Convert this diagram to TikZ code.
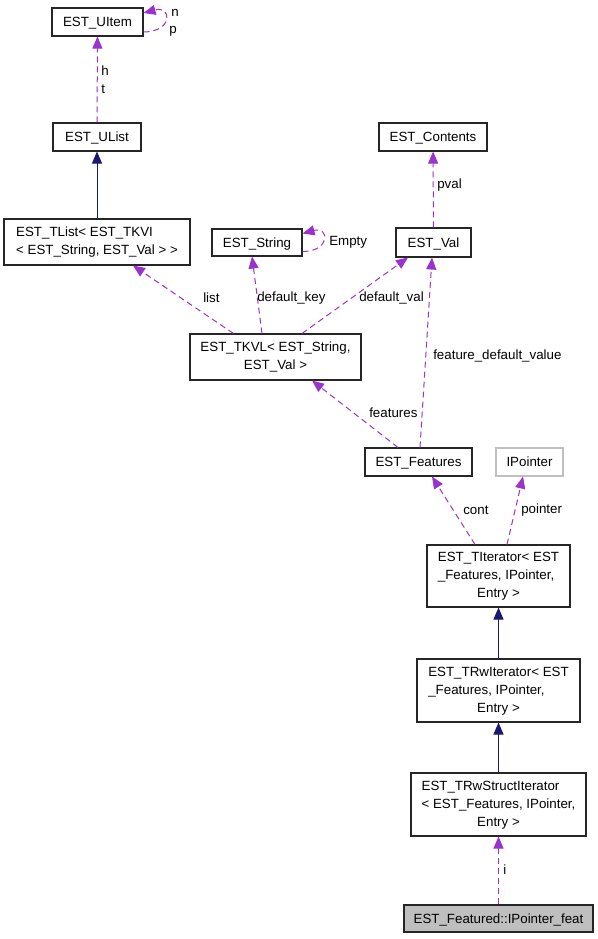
\documentclass[tikz,border=0pt]{standalone}
\usepackage{fontspec}
\setmainfont{Liberation Sans}
\usetikzlibrary{arrows.meta}
\newlength{\px}
\setlength{\px}{0.75pt}
\definecolor{edgepurple}{HTML}{9A32CD}
\definecolor{edgenavy}{HTML}{191970}
\definecolor{boxgray}{HTML}{BFBFBF}
\newcommand{\tlisttext}{\begin{tabular}{@{}l@{}}EST\_TList< EST\_TKVI\\< EST\_String, EST\_Val > >\end{tabular}}
\newcommand{\tkvltext}{\begin{tabular}{@{}c@{}}EST\_TKVL< EST\_String,\\EST\_Val >\end{tabular}}
\newcommand{\titeratortext}{\begin{tabular}{@{}l@{}}EST\_TIterator< EST\\\_Features, IPointer,\\\multicolumn{1}{@{}c@{}}{Entry >}\end{tabular}}
\newcommand{\trwiteratortext}{\begin{tabular}{@{}l@{}}EST\_TRwIterator< EST\\\_Features, IPointer,\\\multicolumn{1}{@{}c@{}}{Entry >}\end{tabular}}
\newcommand{\trwstructtext}{\begin{tabular}{@{}l@{}}EST\_TRwStructIterator\\< EST\_Features, IPointer,\\\multicolumn{1}{@{}c@{}}{Entry >}\end{tabular}}

\begin{document}
\begin{tikzpicture}[x=\px, y=-\px,
  font=\fontsize{10}{13.5}\selectfont,
  >={Triangle[length=9pt,width=7.5pt]},
  cls/.style={rectangle, draw=black!85, line width=0.8pt, inner sep=0pt},
  oneline/.style={cls, text height=7.2pt, text depth=0pt},
  assoc/.style={->, edgepurple, line width=0.75pt, dash pattern=on 4.5pt off 3pt},
  inherit/.style={->, edgenavy, line width=0.75pt},
  lbl/.style={anchor=west, inner sep=0pt}]
  \useasboundingbox (0,0) rectangle (597,939);

  %class boxes
  \draw (97.5,22) node[oneline, minimum width=91\px, minimum height=28\px] (uitem) {EST\_UItem};
  \draw (97,137) node[oneline, minimum width=88\px, minimum height=28\px] (ulist) {EST\_UList};
  \draw (97,242) node[cls, minimum width=186\px, minimum height=46\px] (tlist) {\tlisttext};
  \draw (257,242.5) node[oneline, minimum width=90\px, minimum height=27\px] (string) {EST\_String};
  \draw (433.5,242.5) node[oneline, minimum width=75\px, minimum height=29\px] (val) {EST\_Val};
  \draw (433,137) node[oneline, minimum width=108\px, minimum height=28\px] (contents) {EST\_Contents};
  \draw (275.5,357) node[cls, minimum width=171\px, minimum height=46\px] (tkvl) {\tkvltext};
  \draw (418.5,462) node[oneline, minimum width=107\px, minimum height=28\px] (features) {EST\_Features};
  \draw (529.5,462) node[oneline, draw=boxgray, minimum width=67\px, minimum height=28\px] (ipointer) {IPointer};
  \draw (498.5,576) node[cls, minimum width=143\px, minimum height=62\px] (titerator) {\titeratortext};
  \draw (498.5,690.5) node[cls, minimum width=163\px, minimum height=63\px] (trwiterator) {\trwiteratortext};
  \draw (498.5,804.5) node[cls, minimum width=175\px, minimum height=63\px] (trwstruct) {\trwstructtext};
  \draw (498.5,918.5) node[oneline, fill=boxgray, minimum width=189\px, minimum height=27\px] (featured) {EST\_Featured::IPointer\_feat};

  %inheritance
  \path (tlist) edge[inherit] (ulist);
  \path (trwiterator) edge[inherit] (titerator);
  \path (trwstruct) edge[inherit] (trwiterator);

  %usage
  \path (ulist) edge[assoc] (uitem);
  \path ([yshift=-10\px]uitem.east) edge[assoc, out=0, in=15, looseness=4] ([yshift=9\px]uitem.east);
  \path ([xshift=-42\px]tkvl.north) edge[assoc] ([xshift=36\px]tlist.south);
  \path ([xshift=-13.5\px]tkvl.north) edge[assoc] ([xshift=-5\px]string.south);
  \path ([yshift=-9\px]string.east) edge[assoc, out=0, in=15, looseness=4] ([yshift=9\px]string.east);
  \path ([xshift=26.5\px]tkvl.north) edge[assoc] ([xshift=-25.5\px]val.south);
  \path (val) edge[assoc] (contents);
  \path ([xshift=-20.5\px]features.north) edge[assoc] ([xshift=36.5\px]tkvl.south);
  \path ([xshift=1.5\px]features.north) edge[assoc] ([xshift=-1.5\px]val.south);
  \path ([xshift=-23.5\px]titerator.north) edge[assoc] ([xshift=13.5\px]features.south);
  \path ([xshift=8.5\px]titerator.north) edge[assoc] ([xshift=-6.5\px]ipointer.south);
  \path (featured) edge[assoc] (trwstruct);

  %edge labels
  \node[lbl] (ln) at (171,13) {n};
  \node[lbl] (lp) at (169,31) {p};
  \node[lbl] (lh) at (101,71) {h};
  \node[lbl] (lt) at (101,89) {t};
  \node[lbl] (lempty) at (329,242) {Empty};
  \node[lbl] (llist) at (203,298) {list};
  \node[lbl] (lkey) at (257,298) {default\_key};
  \node[lbl] (lval) at (359,298) {default\_val};
  \node[lbl] (lpval) at (437,185) {pval};
  \node[lbl] (lfdv) at (433,356) {feature\_default\_value};
  \node[lbl] (lfeat) at (369,413) {features};
  \node[lbl] (lcont) at (463,510) {cont};
  \node[lbl] (lpointer) at (521,510) {pointer};
  \node[lbl] (li) at (503,870) {i};
\end{tikzpicture}
\end{document}
